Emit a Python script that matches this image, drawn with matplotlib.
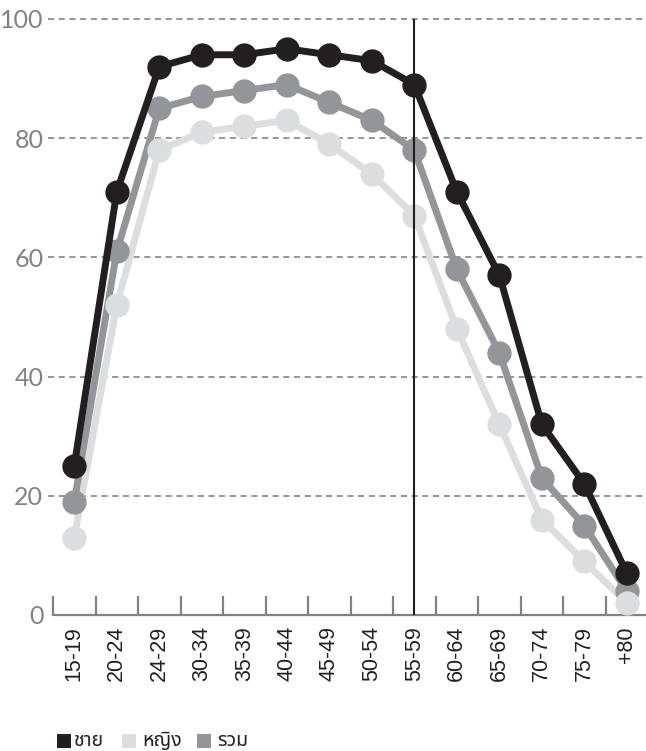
import matplotlib
matplotlib.use("Agg")
import matplotlib.pyplot as plt
from matplotlib import font_manager
from matplotlib.ft2font import FT2Font
from matplotlib.patches import Rectangle
import numpy as np

categories = ["15-19", "20-24", "24-29", "30-34", "35-39", "40-44", "45-49",
              "50-54", "55-59", "60-64", "65-69", "70-74", "75-79", "+80"]
male = [25, 71, 92, 94, 94, 95, 94, 93, 89, 71, 57, 32, 22, 7]
female = [13, 52, 78, 81, 82, 83, 79, 74, 67, 48, 32, 16, 9, 2]
total = [19, 61, 85, 87, 88, 89, 86, 83, 78, 58, 44, 23, 15, 4]
series_names = ["ชาย", "หญิง", "รวม"]
yticks = [0, 20, 40, 60, 80, 100]
marker_category = "55-59"

C_MALE = "#231f20"
C_FEMALE = "#dcddde"
C_TOTAL = "#939598"

# find a font with Thai glyphs
thai_font = None
names_with_thai = []
for fe in font_manager.fontManager.ttflist:
    try:
        cm = FT2Font(fe.fname).get_charmap()
        if ord("ช") in cm and ord("ญ") in cm:
            names_with_thai.append(fe.name)
    except Exception:
        pass
for pref in ["Noto Sans Thai", "Noto Sans Thai Looped", "Loma", "Garuda", "Norasi", "Tlwg Typist"]:
    if pref in names_with_thai:
        thai_font = pref
        break
if thai_font is None and names_with_thai:
    thai_font = names_with_thai[0]
thai_family = [thai_font, "DejaVu Sans"] if thai_font else ["DejaVu Sans"]

fig = plt.figure(figsize=(6.46, 7.51), dpi=100)
W, H = 646, 751
ax = fig.add_axes([53 / W, 1 - 615 / H, (646 - 53) / W, (615 - 19) / H])

x = np.arange(len(categories))
lw = 5
ms = 17.5
ax.plot(x, female, color=C_FEMALE, lw=lw, zorder=2, solid_capstyle="round", clip_on=False)
ax.plot(x, total, color=C_TOTAL, lw=lw, zorder=3, solid_capstyle="round", clip_on=False)
ax.plot(x, total, "o", color=C_TOTAL, ms=ms, mew=0, zorder=4, clip_on=False)
ax.plot(x, female, "o", color=C_FEMALE, ms=ms, mew=0, zorder=5, clip_on=False)
vx = categories.index(marker_category)
ax.axvline(vx, ymin=0, ymax=1, color=C_MALE, lw=1.5, zorder=6)
ax.plot(x, male, "o-", color=C_MALE, lw=lw, ms=ms, mew=0, zorder=7, clip_on=False)

ax.set_xlim(-0.5, 13.45)
ax.set_ylim(0, 100)

for yv in yticks[1:]:
    ax.axhline(yv, xmin=-0.009, xmax=1, color="#77787b", lw=1.1,
               dashes=(4, 3), zorder=1, clip_on=False)

for s in ["top", "right", "left"]:
    ax.spines[s].set_visible(False)
ax.spines["bottom"].set_color("#808285")
ax.spines["bottom"].set_linewidth(1.6)
ax.spines["bottom"].set_zorder(1.5)

ax.set_yticks(yticks)
ax.set_yticklabels([str(v) for v in yticks])
ax.tick_params(axis="y", length=0, pad=7, labelsize=18, labelcolor="#808285")
for t in ax.get_yticklabels():
    t.set_fontfamily(["Lato", "DejaVu Sans"])
    t.set_fontweight("normal")

ax.set_xticks(x)
ax.set_xticklabels(categories, rotation=90, fontsize=15.5, color="#231f20",
                   family=["Liberation Sans", "DejaVu Sans"])
ax.tick_params(axis="x", which="major", length=0, pad=8)
ax.set_xticks(np.arange(-0.5, 13, 1.0), minor=True)
ax.tick_params(axis="x", which="minor", direction="in", length=14, width=1.6,
               color="#808285")

# legend
legend_colors = [C_MALE, C_FEMALE, C_TOTAL]
sq_x = [57, 122, 197]
tx_x = [74, 142, 217]
for name, col, sx, tx in zip(series_names, legend_colors, sq_x, tx_x):
    fig.patches.append(Rectangle((sx / W, 1 - 748 / H), 14 / W, 14 / H,
                                 transform=fig.transFigure, color=col, lw=0))
    fig.text(tx / W, 1 - 741.5 / H, name, family=thai_family, fontsize=14,
             color="#231f20", va="center", ha="left")

fig.savefig("out.png", dpi=100)
